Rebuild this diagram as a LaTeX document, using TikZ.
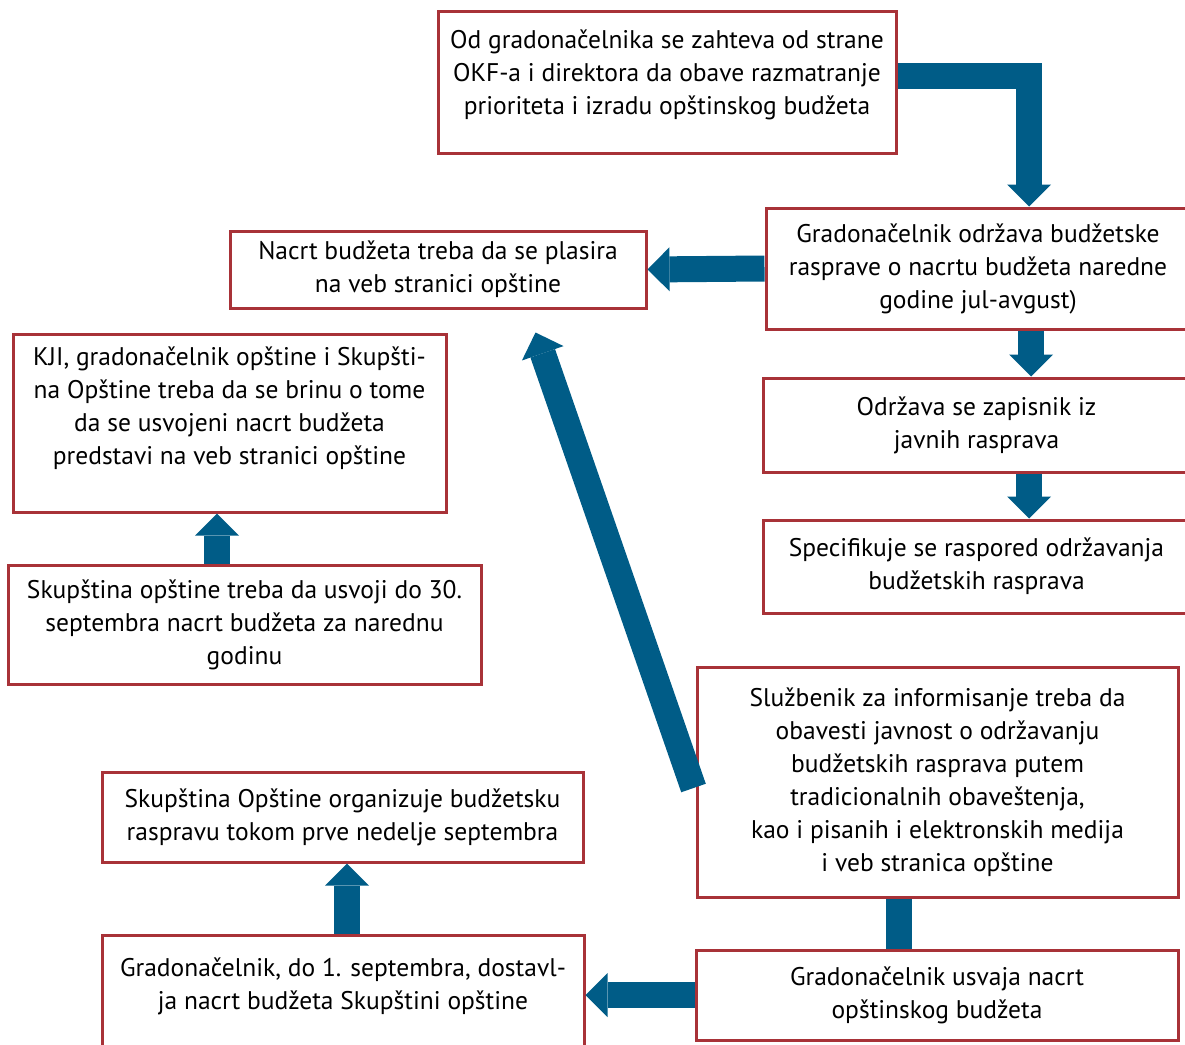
\documentclass[tikz,border=0pt]{standalone}
\usepackage{fontspec}
\setmainfont{PT Sans}
\usetikzlibrary{arrows.meta,calc}
\definecolor{boxred}{RGB}{168,50,56}
\definecolor{arrblue}{RGB}{0,92,135}
\begin{document}
\begin{tikzpicture}[x=1pt,y=-1pt,
  box/.style={draw=boxred,line width=3pt,rectangle,inner sep=0pt,align=center,
    font=\fontsize{25.5}{33}\selectfont},
  txt/.style={inner sep=0pt,align=center,font=\fontsize{25.5}{33}\selectfont},
  flow/.style={draw=arrblue,line width=26pt,line join=miter,
    -{Triangle[width=44pt,length=22pt,line width=0pt]}},
  bar/.style={draw=arrblue,line width=26pt}]
\useasboundingbox (0,0) rectangle (1185,1044);
\begin{scope}
\clip (0,0) rectangle (1185,1044);
% boxes
\node[box,minimum width=458,minimum height=142] (n1) at (667,82) {};
\node[txt] (t1) at (667,75) {Od gradonačelnika se zahteva od strane\\OKF-a i direktora da obave razmatranje\\prioriteta i izradu opštinskog budžeta};
\node[box,minimum width=424,minimum height=121] (n2) at (978,268.5) {Gradonačelnik održava budžetske\\rasprave o nacrtu budžeta naredne\\godine jul-avgust)};
\node[box,minimum width=416,minimum height=77] (n3) at (438,269.5) {Nacrt budžeta treba da se plasira\\na veb stranici opštine};
\node[box,minimum width=427,minimum height=94] (n4) at (976.5,425) {Održava se zapisnik iz\\javnih rasprava};
\node[box,minimum width=427,minimum height=93] (n5) at (976.5,566.5) {Specifikuje se raspored održavanja\\budžetskih rasprava};
\node[box,minimum width=433,minimum height=178] (n6) at (229.5,423) {};
\node[txt] (t6) at (229.5,408) {KJI, gradonačelnik opštine i Skupšti-\\na Opštine treba da se brinu o tome\\da se usvojeni nacrt budžeta\\predstavi na veb stranici opštine};
\node[box,minimum width=473,minimum height=119] (n7) at (244.5,624.5) {Skupština opštine treba da usvoji do 30.\\septembra nacrt budžeta za narednu\\godinu};
\node[box,minimum width=481,minimum height=230] (n8) at (937.5,782) {Službenik za informisanje treba da\\obavesti javnost o održavanju\\budžetskih rasprava putem\\tradicionalnih obaveštenja,\\kao i pisanih i elektronskih medija\\i veb stranica opštine};
\node[box,minimum width=481,minimum height=90] (n9) at (342.5,817) {Skupština Opštine organizuje budžetsku\\raspravu tokom prve nedelje septembra};
\node[box,minimum width=482,minimum height=125] (n10) at (343,997.5) {};
\node[txt] (t10) at (343,986) {Gradonačelnik, do 1. septembra, dostavl-\\ja nacrt budžeta Skupštini opštine};
\node[box,minimum width=482,minimum height=90] (n11) at (937,995) {Gradonačelnik usvaja nacrt\\opštinskog budžeta};
% connectors
\draw[flow] ($(n1.east)+(0,-6.5)$) -| ($(n2.north)+(51,0)$);
\draw[flow] (n2.west) -- (n3.east);
\draw[flow] ($(n2.south)+(53,0)$) -- ($(n4.north)+(54.5,0)$);
\draw[flow] ($(n4.south)+(52.5,0)$) -- ($(n5.north)+(52.5,0)$);
\draw[flow] ($(n7.north)+(-27.5,0)$) -- ($(n6.south)+(-12.5,0)$);
\coordinate (diagtip) at ($(n3.south east)+(-112,23)$);
\draw[flow] ($(n8.west)+(-2,6)$) -- (diagtip);
\draw[flow] ($(n10.north)+(4,0)$) -- ($(n9.south)+(4.5,0)$);
\draw[bar] ($(n8.south)+(-38.5,0)$) -- ($(n11.north)+(-38,0)$);
\draw[flow] (n11.west) -- (n10.east |- n11.west);
\end{scope}
\end{tikzpicture}
\end{document}
